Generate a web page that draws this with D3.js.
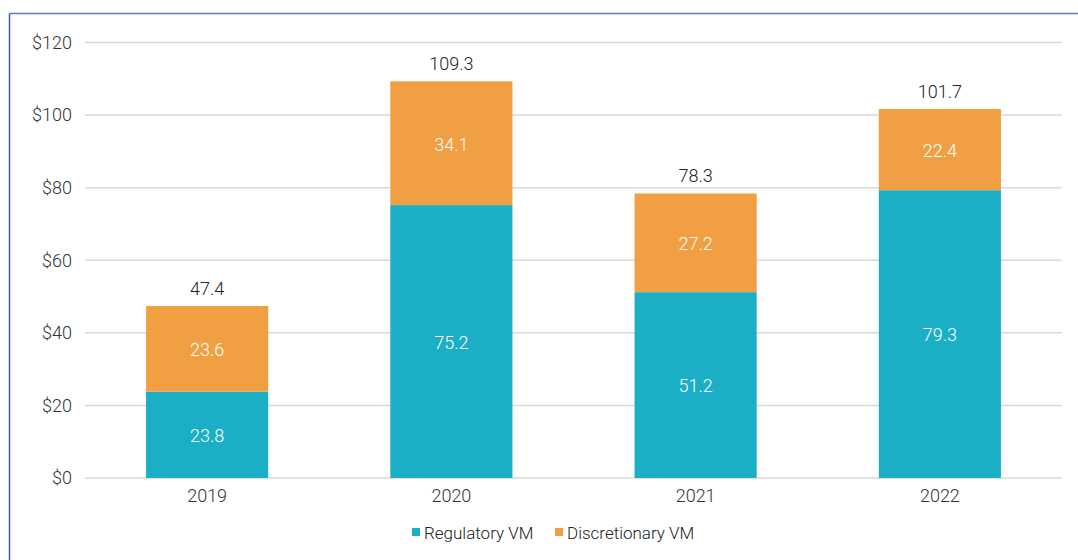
<!DOCTYPE html>
<html>
<head>
<meta charset="utf-8">
<script src="https://cdn.jsdelivr.net/npm/d3@7"></script>
<style>
  html, body { margin: 0; padding: 0; background: #fff; }
  svg { display: block; font-family: Roboto, "Liberation Sans", sans-serif; font-weight: 300; }
</style>
</head>
<body>
<svg id="chart" width="1078" height="560"></svg>
<script>
// data
var years = ['2019', '2020', '2021', '2022']
var regulatory = [23.8, 75.2, 51.2, 79.3]
var discretionary = [23.6, 34.1, 27.2, 22.4]
var totals = [47.4, 109.3, 78.3, 101.7]
var yTicks = [0, 20, 40, 60, 80, 100, 120]
var seriesNames = ['Regulatory VM', 'Discretionary VM']
var COLORS = ['#1aafc6', '#f09f42']

var W = 1078, H = 560
var margin = { left: 85, right: 16, top: 42.5, bottom: 82 }

var svg = d3.select('#chart')

// frame
svg.append('line')
  .attr('x1', 9.5).attr('x2', W).attr('y1', 13.5).attr('y2', 13.5)
  .attr('stroke', '#5a7db5').attr('stroke-width', 1.5)
svg.append('line')
  .attr('x1', 9.5).attr('x2', 9.5).attr('y1', 13.5).attr('y2', H)
  .attr('stroke', '#3d5fa8').attr('stroke-width', 1.5)

var x = d3.scaleBand()
  .domain(years)
  .range([margin.left, W - margin.right])
  .paddingInner(0.5)
  .paddingOuter(0.25)

var y = d3.scaleLinear()
  .domain([0, 120])
  .range([H - margin.bottom, margin.top])

// gridlines
svg.append('g')
  .selectAll('line')
  .data(yTicks)
  .join('line')
  .attr('x1', margin.left).attr('x2', W - margin.right)
  .attr('y1', function (d) { return y(d) }).attr('y2', function (d) { return y(d) })
  .attr('stroke', '#d9d9d9').attr('stroke-width', 1.5)

// y axis
var yAxis = svg.append('g')
  .attr('transform', 'translate(' + margin.left + ',0)')
  .call(d3.axisLeft(y).tickValues(yTicks).tickSize(0).tickPadding(13)
    .tickFormat(function (d) { return '$' + d }))
yAxis.select('.domain').remove()
yAxis.selectAll('text').attr('font-size', 18).attr('fill', '#333')
  .attr('font-family', 'Roboto, sans-serif').attr('font-weight', 300)

// x axis
var xAxis = svg.append('g')
  .attr('transform', 'translate(0,' + y(0) + ')')
  .call(d3.axisBottom(x).tickSize(0).tickPadding(11))
xAxis.select('.domain').remove()
xAxis.selectAll('text').attr('font-size', 18).attr('fill', '#333')
  .attr('font-family', 'Roboto, sans-serif').attr('font-weight', 300)

// stacked bars
var rows = years.map(function (yr, i) {
  return { year: yr, reg: regulatory[i], disc: discretionary[i], total: totals[i] }
})
var stack = d3.stack().keys(['reg', 'disc'])(rows)

var layers = svg.append('g').selectAll('g')
  .data(stack)
  .join('g')
  .attr('fill', function (d, i) { return COLORS[i] })

layers.selectAll('rect')
  .data(function (d) { return d })
  .join('rect')
  .attr('x', function (d) { return x(d.data.year) })
  .attr('width', x.bandwidth())
  .attr('y', function (d) { return y(d[1]) })
  .attr('height', function (d) { return y(d[0]) - y(d[1]) })

// segment labels
layers.selectAll('text')
  .data(function (d) { return d.map(function (p) { return { p: p, key: d.key } }) })
  .join('text')
  .attr('x', function (d) { return x(d.p.data.year) + x.bandwidth() / 2 })
  .attr('y', function (d) { return (y(d.p[0]) + y(d.p[1])) / 2 + 1 })
  .attr('dy', '0.35em')
  .attr('text-anchor', 'middle')
  .attr('font-size', 18)
  .attr('fill', '#fff')
  .text(function (d) { return d.p.data[d.key].toFixed(1) })

// totals
svg.append('g').selectAll('text')
  .data(rows)
  .join('text')
  .attr('x', function (d) { return x(d.year) + x.bandwidth() / 2 })
  .attr('y', function (d) { return y(d.reg + d.disc) - 11 })
  .attr('text-anchor', 'middle')
  .attr('font-size', 18)
  .attr('fill', '#222')
  .text(function (d) { return d.total.toFixed(1) })

// legend
var legendX = [412, 555]
var legend = svg.append('g').selectAll('g')
  .data(seriesNames)
  .join('g')
  .attr('transform', function (d, i) { return 'translate(' + legendX[i] + ',533)' })
legend.append('rect')
  .attr('x', 0).attr('y', -5).attr('width', 8).attr('height', 8)
  .attr('fill', function (d, i) { return COLORS[i] })
legend.append('text')
  .attr('x', 12).attr('y', 0).attr('dy', '0.35em')
  .attr('font-size', 17).attr('fill', '#222')
  .text(function (d) { return d })
</script>
</body>
</html>
